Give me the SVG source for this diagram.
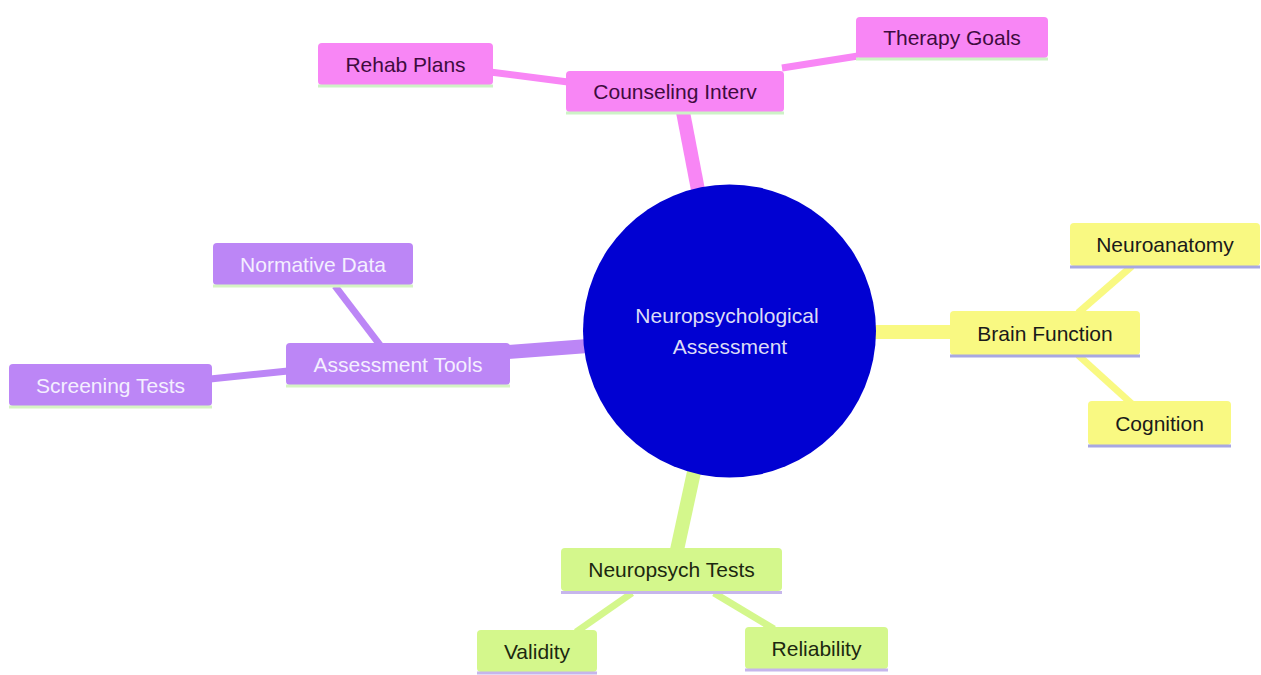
<svg xmlns="http://www.w3.org/2000/svg" width="1261" height="675" viewBox="0 0 1261 675">
<style>
text{font-family:"Liberation Sans",Arial,sans-serif;font-size:21px;text-anchor:middle}
.pk rect.b{fill:#f886f5}.pk text{fill:#3e0c3e}.pk line{stroke:#cdf2c6}
.pu rect.b{fill:#bc86f6}.pu text{fill:#f4efff}.pu line{stroke:#d6f3c4}
.ye rect.b{fill:#f9f982}.ye text{fill:#1a1a1a}.ye line{stroke:#a8a8e2}
.gr rect.b{fill:#d4f78c}.gr text{fill:#1c2810}.gr line{stroke:#c6b6ec}
line{stroke-width:3}
#edges line{stroke-linecap:butt}
.e-pk{stroke:#f886f5}.e-pu{stroke:#bc86f6}.e-ye{stroke:#f9f982}.e-gr{stroke:#d4f78c}
.thick{stroke-width:14}.thin{stroke-width:7}
</style>
<rect width="1261" height="675" fill="#ffffff"/>
<g id="edges">
<line class="e-pk thick" x1="683" y1="112" x2="698" y2="190"/>
<line class="e-pu thick" x1="508" y1="352" x2="588" y2="346"/>
<line class="e-ye thick" x1="872" y1="332" x2="952" y2="332"/>
<line class="e-gr thick" x1="694" y1="472" x2="677" y2="550"/>
<line class="e-pk thin" x1="490" y1="72" x2="568" y2="82"/>
<line class="e-pk thin" x1="782" y1="68" x2="858" y2="56"/>
<line class="e-pu thin" x1="335" y1="286" x2="380" y2="345"/>
<line class="e-pu thin" x1="210" y1="379" x2="288" y2="371"/>
<line class="e-ye thin" x1="1078" y1="313" x2="1132" y2="266"/>
<line class="e-ye thin" x1="1078" y1="355" x2="1132" y2="404"/>
<line class="e-gr thin" x1="632" y1="593" x2="576" y2="632"/>
<line class="e-gr thin" x1="714" y1="593" x2="774" y2="629"/>
</g>
<g id="root">
<circle cx="729.5" cy="331" r="146.5" fill="#0101d2"/>
<text x="727" y="323" fill="#dcdcf6">Neuropsychological</text>
<text x="730" y="354" fill="#dcdcf6">Assessment</text>
</g>
<g id="counseling" class="pk">
<rect class="b" x="566" y="71" width="218" height="41" rx="4"/>
<line x1="566" y1="113" x2="784" y2="113"/>
<text x="675" y="98.5">Counseling Interv</text>
</g>
<g id="rehab" class="pk">
<rect class="b" x="318" y="43" width="175" height="42" rx="4"/>
<line x1="318" y1="86" x2="493" y2="86"/>
<text x="405.5" y="71.5">Rehab Plans</text>
</g>
<g id="therapy" class="pk">
<rect class="b" x="856" y="17" width="192" height="41" rx="4"/>
<line x1="856" y1="59" x2="1048" y2="59"/>
<text x="952" y="45">Therapy Goals</text>
</g>
<g id="assessment" class="pu">
<rect class="b" x="286" y="343" width="224" height="42" rx="4"/>
<line x1="286" y1="386" x2="510" y2="386"/>
<text x="398" y="371.5">Assessment Tools</text>
</g>
<g id="normative" class="pu">
<rect class="b" x="213" y="243" width="200" height="42" rx="4"/>
<line x1="213" y1="286" x2="413" y2="286"/>
<text x="313" y="271.5">Normative Data</text>
</g>
<g id="screening" class="pu">
<rect class="b" x="9" y="364" width="203" height="42" rx="4"/>
<line x1="9" y1="407" x2="212" y2="407"/>
<text x="110.5" y="392.5">Screening Tests</text>
</g>
<g id="brain" class="ye">
<rect class="b" x="950" y="311" width="190" height="44" rx="4"/>
<line x1="950" y1="356" x2="1140" y2="356"/>
<text x="1045" y="340.5">Brain Function</text>
</g>
<g id="neuroanatomy" class="ye">
<rect class="b" x="1070" y="223" width="190" height="43" rx="4"/>
<line x1="1070" y1="267" x2="1260" y2="267"/>
<text x="1165" y="252">Neuroanatomy</text>
</g>
<g id="cognition" class="ye">
<rect class="b" x="1088" y="401" width="143" height="44" rx="4"/>
<line x1="1088" y1="446" x2="1231" y2="446"/>
<text x="1159.5" y="430.5">Cognition</text>
</g>
<g id="neuropsych" class="gr">
<rect class="b" x="561" y="548" width="221" height="43" rx="4"/>
<line x1="561" y1="592.5" x2="782" y2="592.5"/>
<text x="671.5" y="577">Neuropsych Tests</text>
</g>
<g id="validity" class="gr">
<rect class="b" x="477" y="630" width="120" height="42" rx="4"/>
<line x1="477" y1="673" x2="597" y2="673"/>
<text x="537" y="658.5">Validity</text>
</g>
<g id="reliability" class="gr">
<rect class="b" x="745" y="627" width="143" height="42" rx="4"/>
<line x1="745" y1="670" x2="888" y2="670"/>
<text x="816.5" y="655.5">Reliability</text>
</g>
</svg>
